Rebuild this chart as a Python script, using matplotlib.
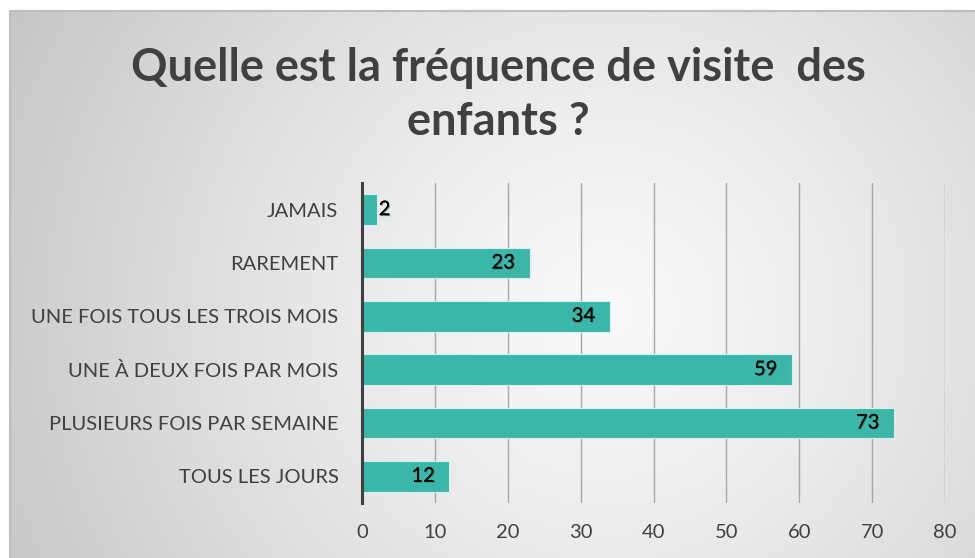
import numpy as np
import matplotlib
matplotlib.use("Agg")
import matplotlib.pyplot as plt
import matplotlib.patheffects as pe

plt.rcParams['font.family'] = ['Lato', 'DejaVu Sans']

categories = ["JAMAIS", "RAREMENT", "UNE FOIS TOUS LES TROIS MOIS",
              "UNE À DEUX FOIS PAR MOIS", "PLUSIEURS FOIS PAR SEMAINE", "TOUS LES JOURS"]
values = [2, 23, 34, 59, 73, 12]
xticks = [0, 10, 20, 30, 40, 50, 60, 70, 80]
title = "Quelle est la fréquence de visite  des\nenfants ?"

W, H = 975, 558
fig = plt.figure(figsize=(W/100, H/100), dpi=100)
fig.patch.set_facecolor("white")

# background panel with radial gradient
x0, y0 = 10, 11
bg = fig.add_axes([x0/W, 0, 1 - x0/W, 1 - y0/H])
bg.set_axis_off()
nx, ny = 400, 240
xx, yy = np.meshgrid(np.linspace(0, 1, nx), np.linspace(0, 1, ny))
cx, cy = 0.62, 0.55
r = np.sqrt(((xx - cx) * 1.0) ** 2 + ((yy - cy) * 0.58) ** 2)
r = r / r.max()
shade = 0.975 - 0.20 * r ** 1.3
img = np.dstack([shade, shade, shade])
bg.imshow(img, extent=[0, 1, 0, 1], aspect='auto', origin='upper')
bg.set_xlim(0, 1); bg.set_ylim(0, 1)
bg.plot([0, 0, 1], [0, 1, 1], color="#bdbdbd", lw=1.5, transform=bg.transAxes, clip_on=False)

# main axes: x 362..945 for 0..80, y 183..503
left_px, right_px = 362, 945
top_px, bot_px = 183, 503
ax = fig.add_axes([left_px/W, 1 - bot_px/H, (right_px-left_px)/W, (bot_px-top_px)/H])
ax.patch.set_alpha(0)

y = np.arange(len(categories))
bars = ax.barh(y, values, height=0.57, color="#3BB7AA", edgecolor="#d9efec", linewidth=0.8, zorder=3)
ax.set_ylim(len(categories) - 0.5, -0.5)
ax.set_xlim(0, 80)
ax.set_xticks(xticks)
ax.set_xticklabels([str(t) for t in xticks])
ax.set_yticks(y)
ax.set_yticklabels(categories)
ax.tick_params(axis='both', length=0, labelsize=14.5, colors="#404040")
ax.tick_params(axis='x', pad=15)
ax.tick_params(axis='y', pad=17)
ax.grid(axis='x', color="#a6a6a6", lw=1.0, zorder=0)
for s in ["top", "right", "bottom"]:
    ax.spines[s].set_visible(False)
ax.spines["left"].set_color("#404040")
ax.spines["left"].set_linewidth(2.2)
ax.spines["left"].set_zorder(4)

for yi, v in zip(y, values):
    if v < 5:
        t = ax.text(v + 0.3, yi, str(v), ha='left', va='center', fontsize=14.5, color="black", zorder=5)
    else:
        t = ax.text(v - 2.0, yi, str(v), ha='right', va='center', fontsize=14.5, color="black", zorder=5)
    t.set_path_effects([pe.withSimplePatchShadow(offset=(0.7, -0.7), shadow_rgbFace="#2a6d66", alpha=0.5),
                        pe.Normal()])

fig.text(498/W, 1 - 95/H, title, ha='center', va='center', fontsize=32.5, fontweight='bold',
         color="#404040", linespacing=1.38)

fig.savefig("out.png", dpi=100)
